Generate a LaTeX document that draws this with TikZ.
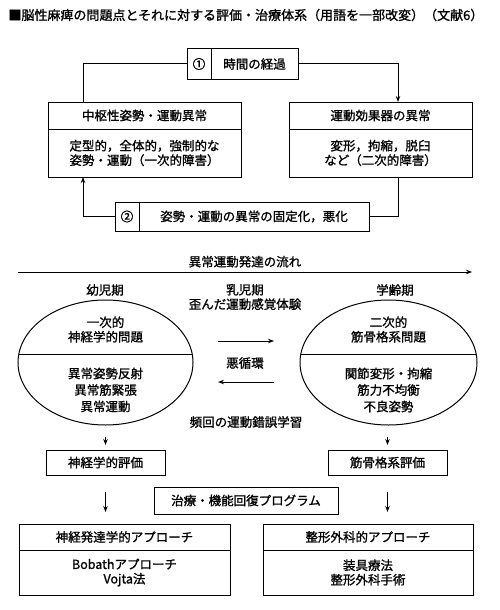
\documentclass[tikz,border=0pt]{standalone}
\usepackage{fontspec}
\setmainfont{Noto Sans CJK JP}[RawFeature={embolden=1.2}]
\usetikzlibrary{shapes.geometric,arrows.meta,positioning,calc}

\begin{document}
\begin{tikzpicture}[
    x=1pt, y=-1pt,
    font=\fontsize{12.5pt}{14.5pt}\selectfont,
    line width=1pt,
    box/.style={rectangle, draw, inner sep=0pt, outer sep=0pt, align=center},
    head/.style={box, minimum height=27pt},
    body/.style={box, minimum height=48pt},
    cell/.style={box, minimum height=30pt},
    oval/.style={ellipse, draw, minimum width=175pt, minimum height=125pt, inner sep=0pt, outer sep=0pt},
    lbl/.style={inner sep=0pt, align=center},
    arrow/.style={-{Stealth[length=6pt,width=4.5pt]}}
]
\useasboundingbox (0,0) rectangle (500,610);

% Title
\node[lbl, anchor=west, font=\fontsize{13pt}{15pt}\selectfont] (title) at (8,15) {■脳性麻痺の問題点とそれに対する評価・治療体系（用語を一部改変）（文献6）};

% Cycle of abnormality
\node[cell, minimum width=24pt] (num1) at (199,64) {①};
\node[cell, minimum width=87pt, right=0pt of num1] (time) {時間の経過};
\node[head, minimum width=193pt] (cnsH) at (144.5,115.5) {中枢性姿勢・運動異常};
\node[body, minimum width=193pt, below=0pt of cnsH] (cnsB) {定型的，全体的，強制的な\\姿勢・運動（一次的障害）};
\node[head, minimum width=183pt] (effH) at (380.5,115.5) {運動効果器の異常};
\node[body, minimum width=183pt, below=0pt of effH] (effB) {変形，拘縮，脱臼\\など（二次的障害）};
\node[cell, minimum width=24pt, minimum height=29pt] (num2) at (127,216.5) {②};
\node[cell, minimum width=230pt, minimum height=29pt, right=0pt of num2] (fix) {姿勢・運動の異常の固定化，悪化};

\draw (num1.west) -| ([xshift=35pt]cnsH.north west);
\draw[arrow] (time.east) -| ([xshift=-74pt]effH.north east);
\draw ([xshift=-74pt]effB.south east) |- (fix.east);
\draw[arrow] (num2.west) -| ([xshift=35pt]cnsB.south west);

% Flow of development
\coordinate (flowS) at (18,272);
\coordinate (flowE) at (472,272);
\draw[arrow] (flowS) -- (flowE);
\node[lbl, above=4pt] (flowT) at ($(flowS)!0.5!(flowE)$) {異常運動発達の流れ};

\node[lbl] (early) at (105,290) {幼児期};
\node[lbl] (infant) at (245,297) {乳児期\\歪んだ運動感覚体験};
\node[lbl] (school) at (395,290) {学齢期};

% Problems
\node[oval] (neuro) at (105.5,362.5) {};
\node[oval, minimum width=177pt] (musc) at (388.5,362.5) {};
\draw (neuro.175) -- (neuro.5);
\draw (musc.175) -- (musc.5);
\node[lbl] (neuroT) at ([yshift=33pt]neuro.center) {一次的\\神経学的問題};
\node[lbl, font=\fontsize{12.5pt}{16.5pt}\selectfont] (neuroB) at ([yshift=-27.5pt]neuro.center) {異常姿勢反射\\異常筋緊張\\異常運動};
\node[lbl] (muscT) at ([yshift=33pt]musc.center) {二次的\\筋骨格系問題};
\node[lbl, font=\fontsize{12.5pt}{16.5pt}\selectfont] (muscB) at ([yshift=-27.5pt]musc.center) {関節変形・拘縮\\筋力不均衡\\不良姿勢};

\node[lbl] (vicious) at (245,363) {悪循環};
\draw[arrow, shorten <=25pt, shorten >=26pt] ([yshift=21.5pt]neuro.east) -- ([yshift=21.5pt]musc.west);
\draw[arrow, shorten <=26pt, shorten >=25pt] ([yshift=-19.5pt]musc.west) -- ([yshift=-19.5pt]neuro.east);
\node[lbl] (learn) at (246,422) {頻回の運動錯誤学習};

% Evaluation
\node[box, minimum width=119pt, minimum height=25pt] (evalN) at (105.5,462.5) {神経学的評価};
\node[box, minimum width=119pt, minimum height=25pt] (evalM) at (387.5,462.5) {筋骨格系評価};
\draw[arrow, shorten <=12pt, shorten >=5pt] (neuro.south) -- (evalN.north);
\draw[arrow, shorten <=12pt, shorten >=5pt] (evalM.north |- musc.south) -- (evalM.north);

% Treatment
\node[box, minimum width=184pt, minimum height=27pt] (prog) at (246,500.5) {治療・機能回復プログラム};
\node[head, minimum width=211pt, minimum height=26pt] (neuroAH) at (124.5,537) {神経発達学的アプローチ};
\node[box, minimum width=211pt, minimum height=45pt, below=0pt of neuroAH] (neuroAB) {Bobathアプローチ\\Vojta法};
\node[head, minimum width=210pt, minimum height=26pt] (orthoH) at (368,537) {整形外科的アプローチ};
\node[box, minimum width=210pt, minimum height=45pt, below=0pt of orthoH] (orthoB) {装具療法\\整形外科手術};
\draw[arrow, shorten <=17pt, shorten >=12pt] (evalN.south) -- (evalN.south |- neuroAH.north);
\draw[arrow, shorten <=17pt, shorten >=12pt] (evalM.south) -- (evalM.south |- orthoH.north);

\end{tikzpicture}
\end{document}
